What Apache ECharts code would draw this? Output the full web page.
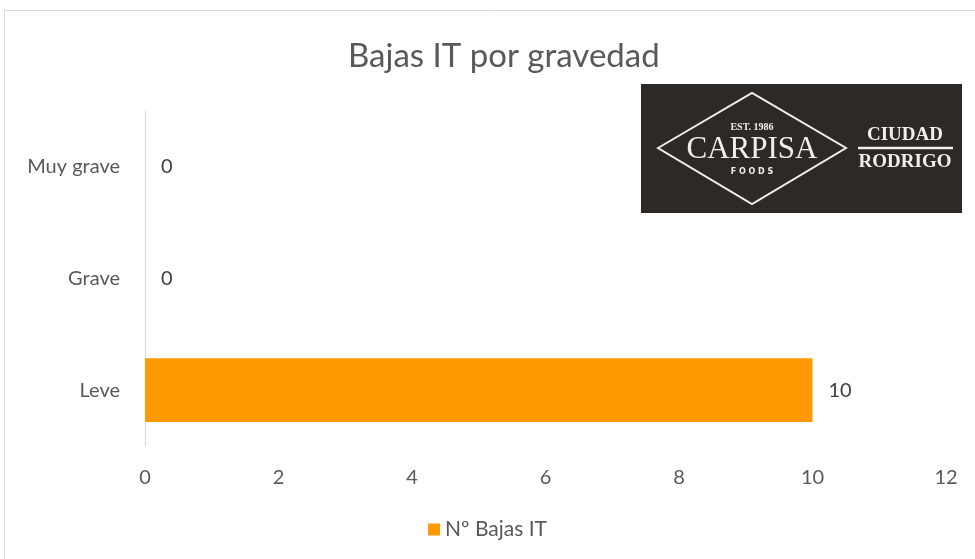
<!DOCTYPE html>
<html>
<head>
<meta charset="utf-8">
<script src="https://cdn.jsdelivr.net/npm/echarts@6/dist/echarts.min.js"></script>
<style>
html, body { margin: 0; padding: 0; background: #fff; }
#chart { width: 975px; height: 559px; }
</style>
</head>
<body>
<div id="chart"></div>
<script>
// datos del grafico
var categorias = ['Leve', 'Grave', 'Muy grave'];
var bajas = [10, 0, 0];
var ticksX = [0, 2, 4, 6, 8, 10, 12];
var nombreSerie = 'Nº Bajas IT';

var fuente = 'Lato, "Noto Sans", sans-serif';
var myChart = echarts.init(document.getElementById('chart'));

var option = {
  backgroundColor: '#fff',
  title: {
    text: 'Bajas IT por gravedad',
    left: 343,
    top: 35,
    textStyle: { color: '#595959', fontSize: 33, fontWeight: 'normal', fontFamily: fuente }
  },
  legend: {
    bottom: 14,
    left: 'center',
    icon: 'rect',
    itemWidth: 12,
    itemHeight: 12,
    itemGap: 10,
    textStyle: { color: '#595959', fontSize: 21, fontFamily: fuente },
    data: [nombreSerie]
  },
  grid: { left: 145, right: 29, top: 111, bottom: 113, containLabel: false },
  xAxis: {
    type: 'value',
    min: ticksX[0],
    max: ticksX[ticksX.length - 1],
    interval: 2,
    axisLine: { show: false },
    axisTick: { show: false },
    splitLine: { show: false },
    axisLabel: { color: '#595959', fontSize: 20, margin: 22, fontFamily: fuente }
  },
  yAxis: {
    type: 'category',
    data: categorias,
    axisLine: { show: true, lineStyle: { color: '#d9d9d9', width: 1 } },
    axisTick: { show: false },
    axisLabel: { color: '#595959', fontSize: 20, margin: 25, fontFamily: fuente }
  },
  series: [{
    name: nombreSerie,
    type: 'bar',
    data: bajas,
    barWidth: '57%',
    itemStyle: { color: '#ff9900' },
    label: {
      show: true,
      position: 'right',
      distance: 16,
      color: '#404040',
      fontSize: 20,
      fontFamily: fuente
    }
  }],
  graphic: [
    // borde del area del grafico
    { type: 'rect', shape: { x: 4.5, y: 10.5, width: 1000, height: 600 },
      style: { fill: 'none', stroke: '#d9d9d9', lineWidth: 1 }, silent: true },
    // logo
    { type: 'rect', shape: { x: 641, y: 84, width: 321, height: 129 },
      style: { fill: '#2d2926' } },
    { type: 'polygon', shape: { points: [[658, 148], [752, 93], [846, 148], [752, 204]] },
      style: { fill: 'none', stroke: '#f2efe9', lineWidth: 2 } },
    { type: 'text', x: 752, y: 127, style: { text: 'EST. 1986', fill: '#f2efe9', font: 'bold 10px "Liberation Serif", serif', align: 'center', verticalAlign: 'middle' } },
    { type: 'text', x: 752, y: 150, style: { text: 'CARPISA', fill: '#f2efe9', font: '31px "Liberation Serif", serif', align: 'center', verticalAlign: 'middle' } },
    { type: 'text', x: 752, y: 172, style: { text: 'F O O D S', fill: '#f2efe9', font: 'bold 8px "DejaVu Sans", sans-serif', align: 'center', verticalAlign: 'middle' } },
    { type: 'text', x: 905, y: 135, style: { text: 'CIUDAD', fill: '#f2efe9', font: 'bold 19px "Liberation Serif", serif', align: 'center', verticalAlign: 'middle' } },
    { type: 'line', shape: { x1: 858, y1: 148, x2: 953, y2: 148 }, style: { stroke: '#f2efe9', lineWidth: 2.5 } },
    { type: 'text', x: 905, y: 162, style: { text: 'RODRIGO', fill: '#f2efe9', font: 'bold 19px "Liberation Serif", serif', align: 'center', verticalAlign: 'middle' } }
  ]
};
myChart.setOption(option);
</script>
</body>
</html>
